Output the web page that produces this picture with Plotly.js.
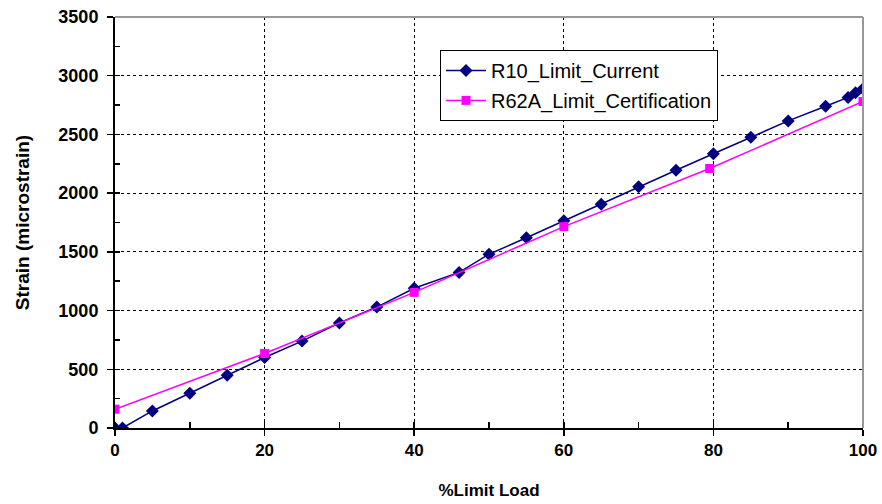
<!DOCTYPE html>
<html>
<head>
<meta charset="utf-8">
<script src="https://cdn.plot.ly/plotly-3.0.1.min.js"></script>
<style>html,body{margin:0;padding:0;background:#fff;}#chart{width:882px;height:504px;}</style>
</head>
<body>
<div id="chart"></div>
<script>
// Data
const currentName = "R10_Limit_Current";
const currentLoad = [0, 1, 5, 10, 15, 20, 25, 30, 35, 40, 46, 50, 55, 60, 65, 70, 75, 80, 85, 90, 95, 98, 99, 100];
const currentStrain = [0, 0, 145, 295, 450, 600, 740, 895, 1030, 1190, 1325, 1480, 1620, 1765, 1905, 2055, 2195, 2335, 2475, 2615, 2740, 2815, 2855, 2890];

const certName = "R62A_Limit_Certification";
const certLoad = [0, 20, 40, 60, 79.5, 100];
const certStrain = [160, 635, 1155, 1715, 2210, 2780];

const xTitle = "%Limit Load";
const yTitle = "Strain (microstrain)";

const traces = [
  {
    x: currentLoad, y: currentStrain, name: currentName, legendgroup: "a",
    type: "scatter", mode: "lines+markers",
    line: {color: "#000080", width: 1.5},
    marker: {symbol: "diamond", size: 10, color: "#000080"}
  },
  {
    x: certLoad, y: certStrain, name: certName, legendgroup: "b",
    type: "scatter", mode: "lines+markers",
    line: {color: "#FF00FF", width: 1.5},
    marker: {symbol: "square", size: 9, color: "#FF00FF"}
  }
];

const fam = "Liberation Sans, Arial, sans-serif";
const layout = {
  width: 882, height: 504,
  margin: {l: 115, r: 19, t: 17, b: 76, pad: 0},
  paper_bgcolor: "#fff", plot_bgcolor: "#fff",
  font: {family: fam, color: "#000"},
  showlegend: true,
  legend: {
    x: 0.4345, y: 0.92, xanchor: "left", yanchor: "top",
    bgcolor: "#fff", bordercolor: "#000", borderwidth: 1,
    font: {family: fam, size: 20, color: "#000"},
    tracegroupgap: 1, itemwidth: 40
  },
  xaxis: {
    range: [0, 100], dtick: 20, tick0: 0,
    showline: true, linecolor: "#000", linewidth: 2,
    ticks: "outside", ticklen: 6, tickwidth: 1.5, tickcolor: "#000",
    showgrid: true, gridcolor: "#000", griddash: "dot", gridwidth: 1,
    zeroline: false,
    minor: {dtick: 10, ticks: "inside", ticklen: 6, tickcolor: "#000", tickwidth: 1.5, showgrid: false},
    tickfont: {family: fam, size: 17, color: "#000", weight: "bold"},
    title: {text: "<b>" + xTitle + "</b>", font: {size: 17, color: "#000"}, standoff: 25},
    fixedrange: true
  },
  yaxis: {
    range: [0, 3500], dtick: 500, tick0: 0,
    showline: true, linecolor: "#000", linewidth: 2,
    ticks: "outside", ticklen: 6, tickwidth: 1.5, tickcolor: "#000",
    showgrid: true, gridcolor: "#000", griddash: "dot", gridwidth: 1,
    zeroline: false,
    minor: {dtick: 250, ticks: "inside", ticklen: 5, tickcolor: "#000", tickwidth: 1.5, showgrid: false},
    tickfont: {family: fam, size: 18, color: "#000", weight: "bold"},
    ticksuffix: " ",
    title: {text: "<b>" + yTitle + "</b>", font: {size: 19, color: "#000"}, standoff: 24},
    fixedrange: true
  },
  shapes: [
    {type: "line", xref: "paper", yref: "paper", x0: 0, x1: 1, y0: 1, y1: 1, line: {color: "#999", width: 2}},
    {type: "line", xref: "paper", yref: "paper", x0: 1, x1: 1, y0: 0, y1: 1, line: {color: "#999", width: 2}}
  ]
};

Plotly.newPlot("chart", traces, layout, {displayModeBar: false, staticPlot: true});
</script>
</body>
</html>
